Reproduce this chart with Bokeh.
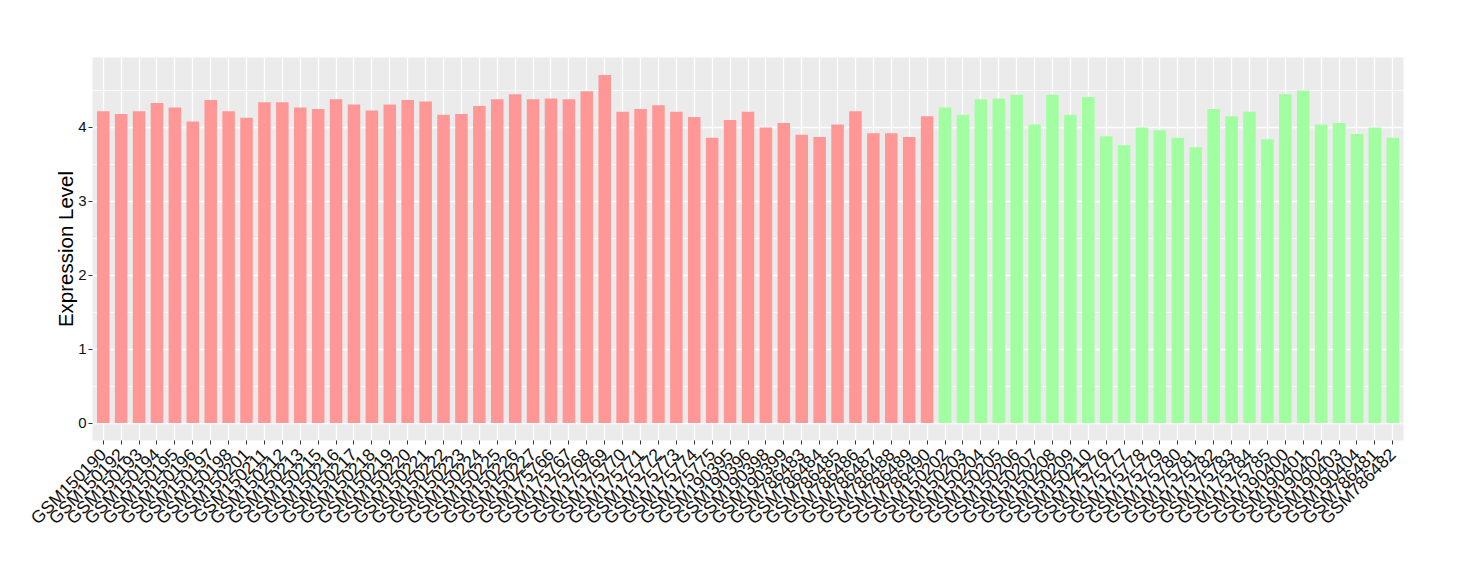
import math
from bokeh.plotting import figure
from bokeh.models import FactorRange, Range1d, FixedTicker
from bokeh.embed import file_html
from bokeh.resources import INLINE

samples_a = ["GSM150190", "GSM150192", "GSM150193", "GSM150194", "GSM150195", "GSM150196",
             "GSM150197", "GSM150198", "GSM150201", "GSM150211", "GSM150212", "GSM150213",
             "GSM150215", "GSM150216", "GSM150217", "GSM150218", "GSM150219", "GSM150220",
             "GSM150221", "GSM150222", "GSM150223", "GSM150224", "GSM150225", "GSM150226",
             "GSM150227", "GSM175766", "GSM175767", "GSM175768", "GSM175769", "GSM175770",
             "GSM175771", "GSM175772", "GSM175773", "GSM175774", "GSM175775", "GSM190395",
             "GSM190396", "GSM190398", "GSM190399", "GSM786483", "GSM786484", "GSM786485",
             "GSM786486", "GSM786487", "GSM786488", "GSM786489", "GSM786490"]
values_a = [4.22, 4.18, 4.22, 4.33, 4.27, 4.08, 4.37, 4.22, 4.13, 4.34, 4.34, 4.27,
            4.25, 4.38, 4.31, 4.23, 4.31, 4.37, 4.35, 4.17, 4.18, 4.29, 4.38, 4.45,
            4.38, 4.39, 4.38, 4.49, 4.71, 4.21, 4.25, 4.30, 4.21, 4.14, 3.86, 4.10,
            4.21, 4.00, 4.06, 3.90, 3.87, 4.04, 4.22, 3.92, 3.92, 3.87, 4.15]

samples_b = ["GSM150202", "GSM150203", "GSM150204", "GSM150205", "GSM150206", "GSM150207",
             "GSM150208", "GSM150209", "GSM150210", "GSM175776", "GSM175777", "GSM175778",
             "GSM175779", "GSM175780", "GSM175781", "GSM175782", "GSM175783", "GSM175784",
             "GSM175785", "GSM190400", "GSM190401", "GSM190402", "GSM190403", "GSM190404",
             "GSM786481", "GSM786482"]
values_b = [4.27, 4.17, 4.38, 4.39, 4.44, 4.04, 4.44, 4.17, 4.41, 3.88, 3.76, 4.00,
            3.96, 3.86, 3.73, 4.25, 4.15, 4.21, 3.84, 4.45, 4.50, 4.04, 4.06, 3.91,
            4.00, 3.86]

color_a = "#FF9797"
color_b = "#A1FFA1"

factors = samples_a + samples_b
vmax = max(values_a + values_b)
pad = vmax * 0.05

p = figure(x_range=FactorRange(factors=factors, range_padding=0.1, range_padding_units="absolute"),
           y_range=Range1d(-pad, vmax + pad),
           frame_width=1311, frame_height=383,
           min_border_left=92, min_border_right=49, min_border_top=57, min_border_bottom=132,
           output_backend="svg", toolbar_location=None)

p.vbar(x=samples_a, top=values_a, bottom=0, width=0.7, fill_color=color_a, line_color=None)
p.vbar(x=samples_b, top=values_b, bottom=0, width=0.7, fill_color=color_b, line_color=None)

p.background_fill_color = "#EBEBEB"
p.border_fill_color = "white"
p.outline_line_color = None

p.yaxis.ticker = FixedTicker(ticks=[0, 1, 2, 3, 4], minor_ticks=[0.5, 1.5, 2.5, 3.5, 4.5])
p.ygrid.ticker = p.yaxis.ticker
p.ygrid.grid_line_color = "white"
p.ygrid.grid_line_width = 1.3
p.ygrid.minor_grid_line_color = "white"
p.ygrid.minor_grid_line_width = 0.7
p.xgrid.grid_line_color = "white"
p.xgrid.grid_line_width = 1.3

for ax in (p.xaxis, p.yaxis):
    ax.axis_line_color = None
    ax.major_tick_in = 0
    ax.major_tick_out = 4
    ax.major_tick_line_color = "#333333"
    ax.minor_tick_in = 0
    ax.minor_tick_out = 0
    ax.major_label_text_font = "Liberation Sans"
    ax.major_label_text_color = "#111111"

p.yaxis.major_label_standoff = 2
p.xaxis.major_label_standoff = 7
p.yaxis.major_label_text_font_size = "15px"
p.xaxis.major_label_text_font_size = "17.5px"
p.xaxis.major_label_orientation = math.pi / 4
p.xaxis.group_text_font_size = "0px"

p.yaxis.axis_label = "Expression Level"
p.yaxis.axis_label_text_font = "Liberation Sans"
p.yaxis.axis_label_text_font_size = "20.5px"
p.yaxis.axis_label_text_font_style = "normal"
p.yaxis.axis_label_text_color = "black"
p.yaxis.axis_label_standoff = -2

open("out.html", "w").write(file_html(p, INLINE))
